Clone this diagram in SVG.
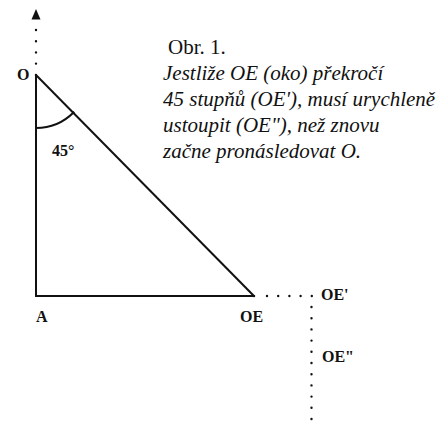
<svg xmlns="http://www.w3.org/2000/svg" width="439" height="421" viewBox="0 0 439 421">
<style>
.lbl{font-family:"Liberation Serif","Times New Roman",serif;font-size:16px;font-weight:bold;fill:#111}
.cap{font-family:"Liberation Serif","Times New Roman",serif;font-size:21px;fill:#111}
.it{font-style:italic}
.solid{stroke:#111;stroke-width:2;fill:none;stroke-linecap:square}
.dots{stroke:#111;stroke-width:2.4;fill:none;stroke-linecap:round;stroke-dasharray:0 11.2}
</style>
<rect width="439" height="421" fill="#fff"/>
<g id="connectors">
<line class="dots" x1="36" y1="30" x2="36" y2="64"/>
<polygon points="36,9 31.5,19.5 40.5,19.5" fill="#111"/>
<line class="solid" x1="36" y1="75" x2="36" y2="296"/>
<line class="solid" x1="36" y1="296" x2="254" y2="296"/>
<line class="solid" x1="36" y1="75" x2="254" y2="296"/>
<line class="dots" x1="267" y1="296" x2="312" y2="296"/>
<line class="dots" x1="311.5" y1="307" x2="311.5" y2="421"/>
</g>
<g id="angle">
<path class="solid" d="M36,128 A53,53 0 0 0 73.5,112.5" stroke-linecap="butt"/>
<text class="lbl" x="52" y="156" font-size="17">45°</text>
</g>
<g id="node-O"><text class="lbl" x="17" y="80">O</text></g>
<g id="node-A"><text class="lbl" x="36" y="322">A</text></g>
<g id="node-OE"><text class="lbl" x="240" y="322">OE</text></g>
<g id="node-OE1"><text class="lbl" x="321" y="300">OE'</text></g>
<g id="node-OE2"><text class="lbl" x="322" y="362">OE"</text></g>
<g id="caption">
<text class="cap" x="168" y="54">Obr. 1.</text>
<text class="cap it" x="163" y="80">Jestliže OE (oko) překročí</text>
<text class="cap it" x="163" y="106">45 stupňů (OE'), musí urychleně</text>
<text class="cap it" x="163" y="132">ustoupit (OE"), než znovu</text>
<text class="cap it" x="163" y="158">začne pronásledovat O.</text>
</g>
</svg>
